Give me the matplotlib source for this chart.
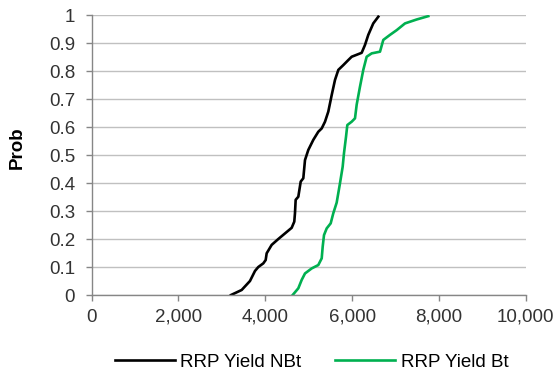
import matplotlib.pyplot as plt
from matplotlib.ticker import FuncFormatter, MultipleLocator

plt.rcParams['font.family'] = ['Liberation Sans', 'DejaVu Sans']

# Cumulative probability curves (yield, prob)
nbt_yield = [3210, 3456, 3647, 3763, 3839, 3954, 4009, 4032, 4147, 4300, 4454,
             4608, 4668, 4684, 4700, 4761, 4816, 4876, 4915, 4991, 5106, 5221,
             5300, 5376, 5452, 5530, 5606, 5683, 5797, 5912, 5991, 6221, 6297,
             6373, 6488, 6604]
nbt_prob = [0.0, 0.018, 0.05, 0.086, 0.10, 0.113, 0.125, 0.149, 0.179, 0.20,
            0.22, 0.24, 0.262, 0.292, 0.34, 0.351, 0.405, 0.417, 0.482, 0.518,
            0.554, 0.583, 0.595, 0.619, 0.655, 0.714, 0.768, 0.804, 0.821,
            0.839, 0.851, 0.865, 0.893, 0.929, 0.97, 0.994]

bt_yield = [4631, 4761, 4839, 4915, 5069, 5221, 5300, 5323, 5353, 5415, 5507,
            5567, 5645, 5721, 5783, 5813, 5860, 5890, 5991, 6067, 6106, 6182,
            6258, 6336, 6452, 6643, 6719, 6873, 7028, 7219, 7488, 7756]
bt_prob = [0.0, 0.024, 0.054, 0.077, 0.095, 0.107, 0.131, 0.173, 0.214, 0.238,
           0.256, 0.292, 0.33, 0.399, 0.458, 0.506, 0.565, 0.607, 0.619, 0.631,
           0.68, 0.744, 0.804, 0.851, 0.863, 0.869, 0.911, 0.929, 0.946, 0.97,
           0.984, 0.996]

fs = 13.5

fig = plt.figure(figsize=(5.58, 3.79), dpi=100)
ax = fig.add_axes([0.1643, 0.2216, 0.7778, 0.7388])

ax.plot(nbt_yield, nbt_prob, color='black', lw=1.9, label='RRP Yield NBt',
        solid_joinstyle='round')
ax.plot(bt_yield, bt_prob, color='#00b050', lw=1.9, label='RRP Yield Bt',
        solid_joinstyle='round')

ax.set_xlim(0, 10000)
ax.set_ylim(0, 1)
ax.xaxis.set_major_locator(MultipleLocator(2000))
ax.yaxis.set_major_locator(MultipleLocator(0.1))
ax.xaxis.set_major_formatter(FuncFormatter(lambda v, p: f'{v:,.0f}'))
ax.yaxis.set_major_formatter(FuncFormatter(lambda v, p: f'{v:.1f}'.rstrip('0').rstrip('.') if v else '0'))

ax.grid(axis='y', color='#c0c0c0', lw=1)
ax.set_axisbelow(True)
for s in ['top', 'right']:
    ax.spines[s].set_visible(False)
for s in ['left', 'bottom']:
    ax.spines[s].set_color('#868686')
    ax.spines[s].set_linewidth(1)
ax.tick_params(colors='#868686', labelcolor='#333333', labelsize=fs,
               length=4, width=1)
ax.tick_params(axis='x', pad=6)
ax.tick_params(axis='y', pad=8)

ax.set_ylabel('Prob', fontsize=fs, fontweight='bold')
ax.yaxis.set_label_coords(-0.153, 0.527)

fig.legend(loc='center', bbox_to_anchor=(0.558, 0.045), ncol=2, frameon=False,
           fontsize=fs, handlelength=3.2, handletextpad=0.27, columnspacing=1.85)

fig.savefig('out.png', dpi=100)
